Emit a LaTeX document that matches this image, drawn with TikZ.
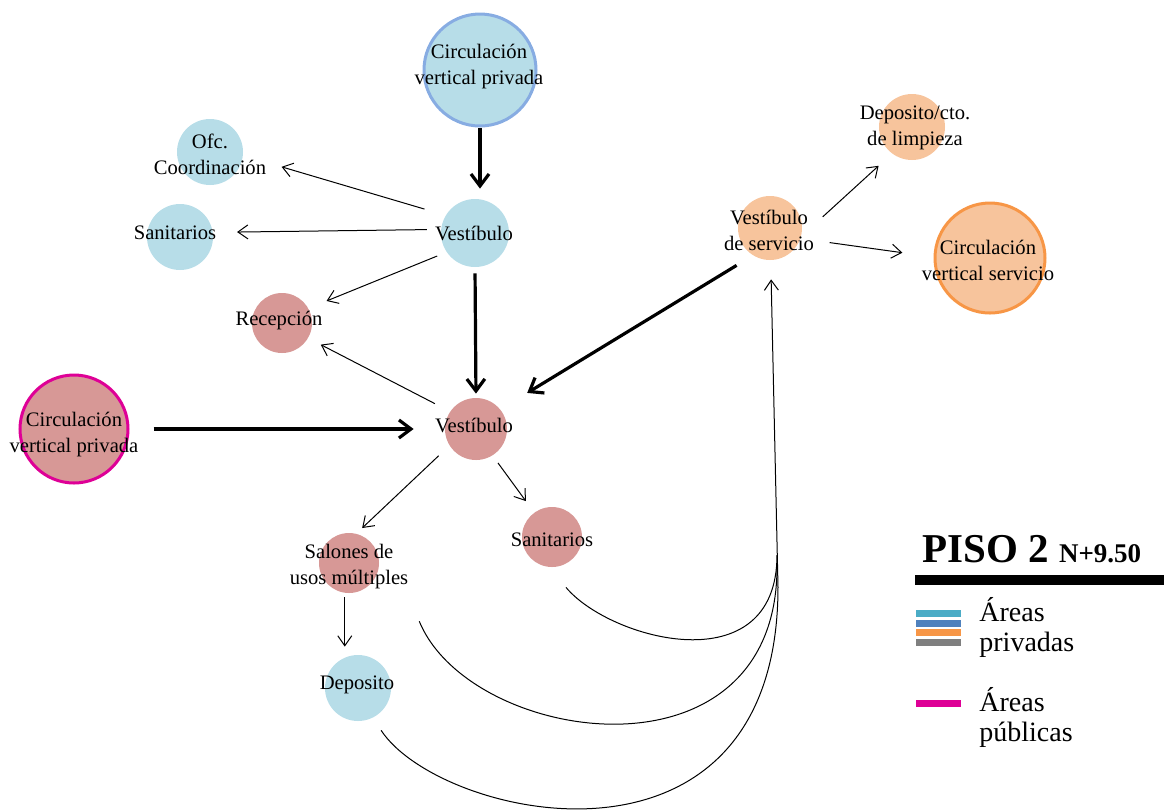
\documentclass[tikz,border=0pt]{standalone}
\usepackage{fontspec}
\setmainfont{Liberation Serif}
\usetikzlibrary{arrows.meta}

\definecolor{celeste}{RGB}{183,221,232}
\definecolor{rosa}{RGB}{215,152,150}
\definecolor{durazno}{RGB}{247,196,156}
\definecolor{bordeAzul}{RGB}{135,172,226}
\definecolor{bordeNaranja}{RGB}{247,150,70}
\definecolor{bordeMagenta}{RGB}{222,0,150}
\definecolor{lgTeal}{RGB}{75,172,198}
\definecolor{lgAzul}{RGB}{79,129,189}
\definecolor{lgNaranja}{RGB}{247,150,70}
\definecolor{lgGris}{RGB}{127,127,127}

\begin{document}
\begin{tikzpicture}[x=0.5pt,y=-0.5pt,
    area/.style={circle,inner sep=0pt,minimum size=#1},
    priv/.style={area=#1,fill=celeste},
    publ/.style={area=#1,fill=rosa},
    serv/.style={area=#1,fill=durazno},
    txt/.style={align=center,inner sep=0pt,font=\fontsize{10.3}{13}\selectfont},
    leyenda/.style={anchor=west,align=left,inner sep=0pt,font=\fontsize{14}{15}\selectfont},
    flecha/.style={-{Straight Barb[length=5pt,width=7pt]},line width=0.5pt},
    gruesa/.style={-{Straight Barb[length=6pt,width=9pt]},line width=1.6pt},
    curva/.style={line width=0.5pt}]
    \useasboundingbox (0,0) rectangle (1164,811);

    % circulaciones verticales
    \node[priv=56pt,draw=bordeAzul,line width=1.5pt] (cvPriv) at (480,70) {};
    \node[publ=54pt,draw=bordeMagenta,line width=1.5pt] (cvPub) at (74,429) {};
    \node[serv=55pt,draw=bordeNaranja,line width=1.5pt] (cvServ) at (990,258) {};

    % locales
    \node[priv=33pt] (ofc) at (210,152) {};
    \node[priv=33pt] (sanA) at (180,237) {};
    \node[priv=34pt] (vesA) at (475,233) {};
    \node[publ=30pt] (rec) at (282,323) {};
    \node[publ=31pt] (vesB) at (476,429) {};
    \node[publ=30pt] (sal) at (349,563) {};
    \node[publ=30pt] (sanB) at (552,537) {};
    \node[priv=33pt] (dep) at (358,688) {};
    \node[serv=32pt] (vesS) at (770,228) {};
    \node[serv=33pt] (lim) at (912,127) {};

    \node[txt] (cvPriv-t) at (479,67) {Circulación\\vertical privada};
    \node[txt] (cvPub-t) at (74,435) {Circulación\\vertical privada};
    \node[txt] (cvServ-t) at (988,260) {Circulación\\vertical servicio};
    \node[txt] (ofc-t) at (210,154) {Ofc.\\Coordinación};
    \node[txt] (sanA-t) at (175,233) {Sanitarios};
    \node[txt] (vesA-t) at (474,233) {Vestíbulo};
    \node[txt] (rec-t) at (279,321) {Recepción};
    \node[txt] (vesB-t) at (474,425) {Vestíbulo};
    \node[txt] (sal-t) at (349,567) {Salones de\\usos múltiples};
    \node[txt] (sanB-t) at (552,540) {Sanitarios};
    \node[txt] (dep-t) at (357,685) {Deposito};
    \node[txt] (vesS-t) at (769,230) {Vestíbulo\\de servicio};
    \node[txt] (lim-t) at (915,128) {Deposito/cto.\\de limpieza};

    % accesos principales
    \draw[gruesa,shorten >=5pt] (cvPriv.south) -- (cvPriv.south |- vesA.north);
    \draw[gruesa,shorten <=3pt,shorten >=2pt] (vesA.south) -- (vesB.north);
    \draw[gruesa,shorten <=12pt,shorten >=15.5pt] (cvPub.east) -- (vesB.west);
    \draw[gruesa,shorten <=9.5pt,shorten >=15.7pt] (vesS.238) -- (vesB.39);

    \draw[flecha,shorten <=11pt,shorten >=20pt] (vesA.149) -- (ofc.-6);
    \draw[flecha,shorten <=7pt,shorten >=12pt] (vesA.174) -- (sanA.8);
    \draw[flecha,shorten <=5pt,shorten >=9.7pt] (vesA.214) -- (rec.29);
    \draw[flecha,shorten <=8.5pt,shorten >=7pt] (vesB.146) -- (rec.-30);
    \draw[flecha,shorten <=7.4pt,shorten >=4pt] (vesB.212) -- (sal.76);
    \draw[flecha,shorten <=4.5pt,shorten >=7pt] (vesB.-58) -- (sanB.126);
    \draw[flecha,shorten <=2pt,shorten >=4pt] (sal.262) -- (sal.262 |- dep.north);
    \draw[flecha,shorten <=14.5pt,shorten >=9pt] (vesS.-15) -- (lim.233);
    \draw[flecha,shorten <=14.6pt,shorten >=15.7pt] (vesS.-19) -- (cvServ.179);

    % recorrido de servicio
    \coordinate (j1) at (777,555);
    \coordinate (j2) at (777,567);
    \coordinate (j3) at (778,587);
    \draw[curva] ([xshift=7pt,yshift=-10pt]sanB.south) .. controls (610,640) and (777,685) .. (j1);
    \draw[curva] ([xshift=24.4pt,yshift=-18.4pt]sal.-45) .. controls (470,745) and (777,790) .. (j2);
    \draw[curva] ([xshift=3.2pt,yshift=-6.7pt]dep.-60) .. controls (440,820) and (778,895) .. (j3);
    \draw[flecha,shorten >=9.5pt] (j3) -- (vesS);

    % leyenda
    \node[anchor=base west,inner sep=0pt,font=\bfseries] (piso) at (922,562)
        {\fontsize{20.5}{24}\selectfont PISO 2 {\fontsize{13.5}{15}\selectfont N+9.50}};
    \draw[line width=5pt] (915,580) -- (1164,580);
    \foreach \c/\y in {lgTeal/613,lgAzul/623,lgNaranja/632.5,lgGris/642.5}
        \fill[\c] (916,\y-3.5) rectangle (961,\y+3.5);
    \fill[bordeMagenta] (916,700) rectangle (961,707);
    \node[leyenda] (privadas) at (979,627) {Áreas\\privadas};
    \node[leyenda] (publicas) at (979,717) {Áreas\\públicas};
\end{tikzpicture}
\end{document}
